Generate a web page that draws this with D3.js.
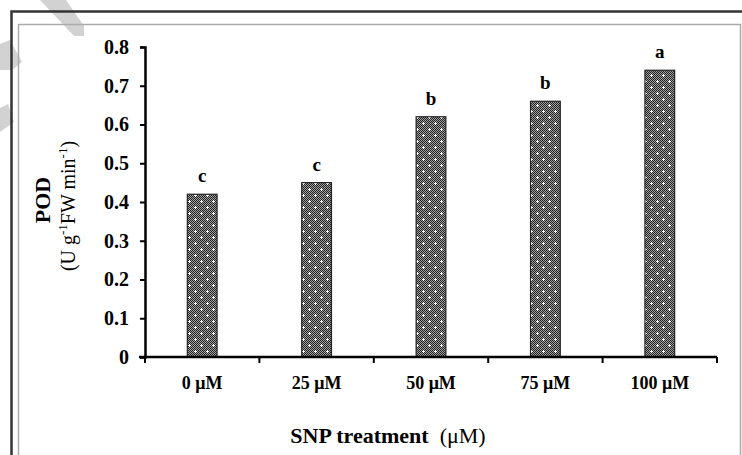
<!DOCTYPE html>
<html>
<head>
<meta charset="utf-8">
<script src="https://cdn.jsdelivr.net/npm/d3@7"></script>
<style>
  body { margin: 0; background: #fff; }
  svg { display: block; }
  text { font-family: "Liberation Serif", "Times New Roman", serif; }
</style>
</head>
<body>
<div id="chart"></div>
<script>
// chart data
const categories = ["0 μM", "25 μM", "50 μM", "75 μM", "100 μM"];
const podValues = [0.42, 0.45, 0.62, 0.66, 0.74];
const letters = ["c", "c", "b", "b", "a"];
const yTicks = [0, 0.1, 0.2, 0.3, 0.4, 0.5, 0.6, 0.7, 0.8];

const W = 742, H = 455;
const plot = { left: 145, right: 717, top: 47, bottom: 357 };

const svg = d3.select("#chart").append("svg")
  .attr("width", W)
  .attr("height", H);

// dithered grey fill with white crosses, like the original bars
const defs = svg.append("defs");
const dots = defs.append("pattern")
  .attr("id", "dots")
  .attr("width", 2).attr("height", 2)
  .attr("patternUnits", "userSpaceOnUse");
dots.append("rect").attr("width", 2).attr("height", 2).attr("fill", "#a0a0a0");
dots.append("rect").attr("x", 0).attr("y", 0).attr("width", 1).attr("height", 1).attr("fill", "#222");
dots.append("rect").attr("x", 1).attr("y", 1).attr("width", 1).attr("height", 1).attr("fill", "#222");

const hatch = defs.append("pattern")
  .attr("id", "hatch")
  .attr("width", 12).attr("height", 12)
  .attr("patternUnits", "userSpaceOnUse");
hatch.append("rect").attr("width", 12).attr("height", 12).attr("fill", "url(#dots)");
[[3, 3], [9, 9]].forEach(function (p) {
  hatch.append("rect").attr("x", p[0] - 1).attr("y", p[1]).attr("width", 3).attr("height", 1).attr("fill", "#fff");
  hatch.append("rect").attr("x", p[0]).attr("y", p[1] - 1).attr("width", 1).attr("height", 3).attr("fill", "#fff");
});

// faint watermark strokes in the top-left corner
svg.append("g").attr("fill", "#d2d2d2")
  .selectAll("path")
  .data([
    "M40,0 L66,0 L84,26 L84,36 L74,36 Z",
    "M0,44 L10,40 L22,62 L12,70 L0,70 Z",
    "M0,108 L8,104 L14,122 L0,132 Z"
  ])
  .join("path")
  .attr("d", d => d);

// outer and inner frames
svg.append("path")
  .attr("d", "M11.5," + H + " L11.5,11.5 L" + W + ",11.5")
  .attr("fill", "none").attr("stroke", "#333").attr("stroke-width", 2.5);
svg.append("path")
  .attr("d", "M18.5," + H + " L18.5,24.5 L740.5,24.5 L740.5," + H)
  .attr("fill", "none").attr("stroke", "#aaa").attr("stroke-width", 1.5);

const x = d3.scaleBand()
  .domain(categories)
  .range([plot.left, plot.right])
  .paddingInner(0.74)
  .paddingOuter(0.37);

const y = d3.scaleLinear()
  .domain([0, 0.8])
  .range([plot.bottom, plot.top]);

// bars
svg.append("g")
  .selectAll("rect")
  .data(podValues)
  .join("rect")
  .attr("x", (d, i) => x(categories[i]))
  .attr("y", d => y(d))
  .attr("width", x.bandwidth())
  .attr("height", d => y(0) - y(d))
  .attr("fill", "url(#hatch)")
  .attr("stroke", "#222")
  .attr("stroke-width", 1.2);

// significance letters
svg.append("g")
  .selectAll("text")
  .data(letters)
  .join("text")
  .attr("x", (d, i) => x(categories[i]) + x.bandwidth() / 2)
  .attr("y", (d, i) => y(podValues[i]) - 12)
  .attr("text-anchor", "middle")
  .attr("font-size", 19)
  .attr("font-weight", "bold")
  .attr("fill", "#000")
  .text(d => d);

// y axis
const yAxis = svg.append("g")
  .attr("transform", "translate(" + plot.left + ",0)")
  .call(d3.axisLeft(y).tickValues(yTicks).tickSize(5).tickPadding(11)
    .tickFormat(d => d === 0 ? "0" : d3.format(".1f")(d)));
yAxis.select(".domain").attr("stroke", "#000").attr("stroke-width", 2.5);
yAxis.selectAll(".tick line").attr("stroke", "#000").attr("stroke-width", 2);
yAxis.selectAll(".tick text")
  .attr("font-size", 20).attr("font-weight", "bold").attr("fill", "#000");

// x axis, ticks at the band edges
const xEdges = categories.map(c => x(c) - x.step() * x.paddingInner() / 2).concat([plot.right]);
const xAxisG = svg.append("g").attr("transform", "translate(0," + plot.bottom + ")");
xAxisG.append("line")
  .attr("x1", plot.left - 6).attr("x2", plot.right)
  .attr("stroke", "#000").attr("stroke-width", 2.5);
xAxisG.selectAll("line.tk")
  .data(xEdges)
  .join("line")
  .attr("class", "tk")
  .attr("x1", d => d).attr("x2", d => d)
  .attr("y1", 0).attr("y2", 6)
  .attr("stroke", "#000").attr("stroke-width", 2);
xAxisG.selectAll("text")
  .data(categories)
  .join("text")
  .attr("x", d => x(d) + x.bandwidth() / 2)
  .attr("y", 32)
  .attr("text-anchor", "middle")
  .attr("font-size", 18)
  .attr("font-weight", "bold")
  .attr("fill", "#000")
  .text(d => d);

// x axis title
const xt = svg.append("text")
  .attr("x", 388).attr("y", 443)
  .attr("text-anchor", "middle")
  .attr("font-size", 22)
  .attr("fill", "#000");
xt.append("tspan").attr("font-weight", "bold").text("SNP treatment");
xt.append("tspan").attr("font-weight", "normal").text("\u00a0 (μM)");

// y axis title, two lines
const yt = svg.append("g").attr("transform", "translate(50,200) rotate(-90)");
yt.append("text")
  .attr("text-anchor", "middle")
  .attr("font-size", 22)
  .attr("font-weight", "bold")
  .attr("fill", "#000")
  .text("POD");
const yt2 = yt.append("text")
  .attr("y", 25)
  .attr("x", -6)
  .attr("text-anchor", "middle")
  .attr("font-size", 20)
  .attr("fill", "#000");
yt2.append("tspan").text("(U g");
yt2.append("tspan").attr("font-size", 13).attr("dy", -8).text("-1");
yt2.append("tspan").attr("dy", 8).text("FW min");
yt2.append("tspan").attr("font-size", 13).attr("dy", -8).text("-1");
yt2.append("tspan").attr("dy", 8).text(")");
</script>
</body>
</html>
